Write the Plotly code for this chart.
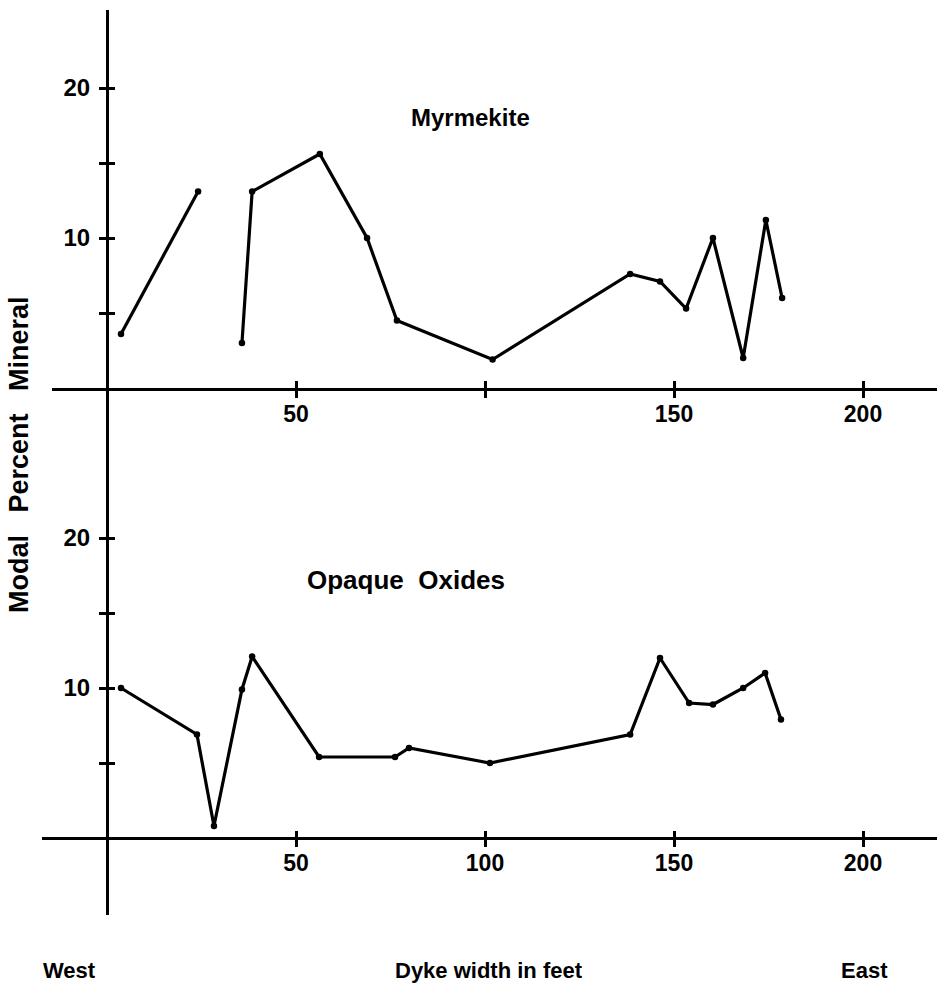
import plotly.graph_objects as go

# Distance across the dyke (feet) and modal percentages
myrmekite_x = [3.7, 24.1, None, 35.7, 38.4, 56.3, 68.8, 76.7, 102.0, 138.4, 146.3, 153.2, 160.3, 168.3, 174.3, 178.6]
myrmekite_y = [3.6, 13.1, None, 3.0, 13.1, 15.6, 10.0, 4.5, 1.9, 7.6, 7.1, 5.3, 10.0, 2.0, 11.2, 6.0]

oxides_x = [3.7, 23.8, 28.3, 35.7, 38.4, 56.1, 76.2, 79.9, 101.3, 138.4, 146.3, 154.0, 160.3, 168.3, 174.1, 178.3]
oxides_y = [10.0, 6.9, 0.8, 9.9, 12.1, 5.4, 5.4, 6.0, 5.0, 6.9, 12.0, 9.0, 8.9, 10.0, 11.0, 7.9]

x_tickvals = [50, 100, 150, 200]
x_ticktext_top = ["50", "", "150", "200"]
x_ticktext_bottom = ["50", "100", "150", "200"]
y_tickvals = [5, 10, 15, 20]
y_ticktext = ["", "10", "", "20"]

W, H = 937, 999
X0_PX, X_SCALE = 107, 3.78      # pixel of x = 0, pixels per foot
Y_SCALE = 15                    # pixels per percent


def fx(px):
    return px / W


def fy(py):
    return 1 - py / H


def xrange_from(px_left):
    return [(px_left - X0_PX) / X_SCALE, (W - X0_PX) / X_SCALE]


FONT = "Liberation Sans, Arial, sans-serif"
x_tick_font = dict(family=FONT, size=23, color="black", weight="bold")
y_tick_font = dict(family=FONT, size=24, color="black", weight="bold")
line_style = dict(color="black", width=3.2)
marker_style = dict(color="black", size=6.5)

fig = go.Figure()

fig.add_trace(go.Scatter(x=myrmekite_x, y=myrmekite_y, mode="lines+markers",
                         line=line_style, marker=marker_style,
                         connectgaps=False, xaxis="x", yaxis="y",
                         showlegend=False, hoverinfo="skip"))
fig.add_trace(go.Scatter(x=oxides_x, y=oxides_y, mode="lines+markers",
                         line=line_style, marker=marker_style,
                         xaxis="x2", yaxis="y2",
                         showlegend=False, hoverinfo="skip"))
# companions carrying the inward half of each crossing tick
fig.add_trace(go.Scatter(x=[], y=[], xaxis="x3", yaxis="y3", showlegend=False))
fig.add_trace(go.Scatter(x=[], y=[], xaxis="x4", yaxis="y4", showlegend=False))

top_x_range = xrange_from(52)
bot_x_range = xrange_from(42)
top_y_dom = [fy(388), fy(10)]
bot_y_dom = [fy(915), fy(388)]
top_y_range = [0, (388 - 10) / Y_SCALE]
bot_y_range = [(838 - 915) / Y_SCALE, (838 - 388) / Y_SCALE]
y_axis_pos = fx(X0_PX)
bot_x_pos = fy(838)

common_x = dict(showgrid=False, zeroline=False, tickvals=x_tickvals,
                tickcolor="black", tickwidth=2.5, ticklen=7,
                tickfont=x_tick_font, fixedrange=True)
common_y = dict(showgrid=False, zeroline=False, tickvals=y_tickvals,
                tickcolor="black", tickwidth=2.5, ticklen=7,
                tickfont=y_tick_font, fixedrange=True)

fig.update_layout(
    width=W, height=H,
    margin=dict(l=0, r=0, t=0, b=0),
    paper_bgcolor="white", plot_bgcolor="white",
    xaxis=dict(common_x, domain=[fx(52), 1], range=top_x_range, anchor="y",
               showline=True, linecolor="black", linewidth=3,
               ticks="outside", ticktext=x_ticktext_top, ticklabelstandoff=-4),
    yaxis=dict(common_y, domain=top_y_dom, range=top_y_range,
               anchor="free", position=y_axis_pos,
               showline=True, linecolor="black", linewidth=3,
               ticks="outside", ticktext=y_ticktext, ticklabelstandoff=4),
    xaxis2=dict(common_x, domain=[fx(42), 1], range=bot_x_range,
                anchor="free", position=bot_x_pos,
                showline=True, linecolor="black", linewidth=3,
                ticks="outside", ticktext=x_ticktext_bottom, ticklabelstandoff=-4),
    yaxis2=dict(common_y, domain=bot_y_dom, range=bot_y_range,
                anchor="free", position=y_axis_pos,
                showline=True, linecolor="black", linewidth=3,
                ticks="outside", ticktext=y_ticktext, ticklabelstandoff=4),
    xaxis3=dict(common_x, overlaying="x", range=top_x_range, anchor="y3",
                showline=False, ticks="inside", showticklabels=False),
    yaxis3=dict(common_y, overlaying="y", range=top_y_range,
                anchor="free", position=y_axis_pos,
                showline=False, ticks="inside", showticklabels=False),
    xaxis4=dict(common_x, overlaying="x2", range=bot_x_range,
                anchor="free", position=bot_x_pos,
                showline=False, ticks="inside", showticklabels=False),
    yaxis4=dict(common_y, overlaying="y2", range=bot_y_range,
                anchor="free", position=y_axis_pos,
                showline=False, ticks="inside", showticklabels=False),
)

NB = "\u00a0"
notes = [
    ("Myrmekite", 470, 117, 0, 24),
    ("Opaque" + NB * 2 + "Oxides", 406, 580, 0, 26),
    ("Modal" + NB * 3 + "Percent" + NB * 3 + "Mineral", 19, 455, -90, 27),
    ("West", 69, 970, 0, 22),
    ("Dyke width in feet", 489, 970, 0, 22),
    ("East", 864, 970, 0, 22),
]
for text, px, py, angle, size in notes:
    fig.add_annotation(text=text, x=fx(px), y=fy(py),
                       xref="paper", yref="paper", showarrow=False,
                       xanchor="center", yanchor="middle", textangle=angle,
                       font=dict(family=FONT, size=size, color="black",
                                 weight="bold"))

fig.write_html("out.html")
